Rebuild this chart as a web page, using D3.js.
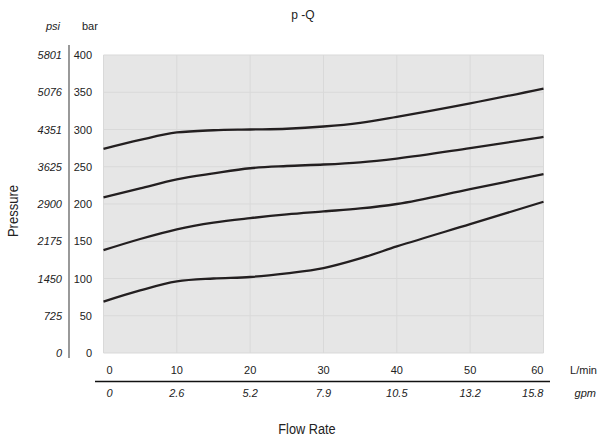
<!DOCTYPE html>
<html>
<head>
<meta charset="utf-8">
<script src="https://cdn.jsdelivr.net/npm/d3@7"></script>
<style>
  body { margin: 0; background: #fff; }
  text { font-family: "Liberation Sans", Arial, sans-serif; fill: #222; }
</style>
</head>
<body>
<svg id="chart" width="598" height="441"></svg>
<script>
// data (bar vs L/min)
const flow = [0, 5, 10, 15, 20, 25, 30, 35, 40, 50, 60];
const curveA = [274, 286, 296, 299, 300, 301, 304, 309, 317, 335, 355];
const curveB = [209, 221, 233, 241, 248, 251, 253, 256, 261, 275, 290];
const curveC = [138, 153, 166, 175, 181, 186, 190, 194, 200, 220, 240];
const curveD = [69, 84, 96, 100, 102, 107, 114, 127, 143, 173, 203];
const barTicks = [0, 50, 100, 150, 200, 250, 300, 350, 400];
const psiLabels = ["0", "725", "1450", "2175", "2900", "3625", "4351", "5076", "5801"];
const lpmTicks = [0, 10, 20, 30, 40, 50, 60];
const gpmLabels = ["0", "2.6", "5.2", "7.9", "10.5", "13.2", "15.8"];

const svg = d3.select("#chart");
const plotLeft = 103.5, plotRight = 543.5, plotTop = 55, plotBottom = 353;

const x = d3.scaleLinear().domain([0, 60]).range([plotLeft, plotRight]);
const y = d3.scaleLinear().domain([0, 400]).range([plotBottom, plotTop]);

// plot background
svg.append("rect")
  .attr("x", plotLeft).attr("y", plotTop)
  .attr("width", plotRight - plotLeft).attr("height", plotBottom - plotTop)
  .attr("fill", "#e6e6e6");

// grid
svg.append("g").selectAll("line").data(barTicks).join("line")
  .attr("x1", plotLeft).attr("x2", plotRight)
  .attr("y1", d => y(d)).attr("y2", d => y(d))
  .attr("stroke", "#d9d9d9").attr("stroke-width", 1);
svg.append("g").selectAll("line").data(lpmTicks).join("line")
  .attr("x1", d => x(d)).attr("x2", d => x(d))
  .attr("y1", plotTop).attr("y2", plotBottom)
  .attr("stroke", "#d9d9d9").attr("stroke-width", 1);

// curves
const line = d3.line()
  .x((d, i) => x(flow[i]))
  .y(d => y(d))
  .curve(d3.curveMonotoneX);
svg.append("g").selectAll("path").data([curveA, curveB, curveC, curveD]).join("path")
  .attr("d", line)
  .attr("fill", "none")
  .attr("stroke", "#231f20")
  .attr("stroke-width", 2.3);

// title
svg.append("text").attr("x", 303).attr("y", 19)
  .attr("text-anchor", "middle").attr("font-size", 12)
  .text("p -Q");

// left axes: psi | bar
svg.append("line")
  .attr("x1", 69).attr("x2", 69).attr("y1", 45).attr("y2", 358)
  .attr("stroke", "#808080").attr("stroke-width", 1.6);
svg.append("text").attr("x", 60).attr("y", 30)
  .attr("text-anchor", "end").attr("font-size", 11).attr("font-style", "italic")
  .text("psi");
svg.append("text").attr("x", 82).attr("y", 30)
  .attr("font-size", 11)
  .text("bar");
svg.append("g").selectAll("text").data(barTicks).join("text")
  .attr("x", 92).attr("y", d => y(d) + 4)
  .attr("text-anchor", "end").attr("font-size", 11)
  .text(d => d);
svg.append("g").selectAll("text").data(barTicks).join("text")
  .attr("x", 62).attr("y", d => y(d) + 4)
  .attr("text-anchor", "end").attr("font-size", 11).attr("font-style", "italic")
  .text((d, i) => psiLabels[i]);
svg.append("text")
  .attr("transform", "translate(18,211) rotate(-90) scale(0.87,1)")
  .attr("text-anchor", "middle").attr("font-size", 15)
  .text("Pressure");

// bottom axes: L/min over gpm
const anchorFor = i => i === 0 ? "start" : i === lpmTicks.length - 1 ? "end" : "middle";
const nudge = i => i === 0 ? 3 : 0;
svg.append("g").selectAll("text").data(lpmTicks).join("text")
  .attr("x", (d, i) => x(d) + nudge(i)).attr("y", 374)
  .attr("text-anchor", (d, i) => anchorFor(i)).attr("font-size", 11)
  .text(d => d);
svg.append("line")
  .attr("x1", 95).attr("x2", 550).attr("y1", 381.5).attr("y2", 381.5)
  .attr("stroke", "#111").attr("stroke-width", 1.4);
svg.append("g").selectAll("text").data(lpmTicks).join("text")
  .attr("x", (d, i) => x(d) + nudge(i)).attr("y", 397)
  .attr("text-anchor", (d, i) => anchorFor(i)).attr("font-size", 11).attr("font-style", "italic")
  .text((d, i) => gpmLabels[i]);
svg.append("text").attr("x", 597).attr("y", 374)
  .attr("text-anchor", "end").attr("font-size", 11).text("L/min");
svg.append("text").attr("x", 596).attr("y", 397)
  .attr("text-anchor", "end").attr("font-size", 11).attr("font-style", "italic").text("gpm");
svg.append("text")
  .attr("transform", "translate(307,434) scale(0.85,1)")
  .attr("text-anchor", "middle").attr("font-size", 15)
  .text("Flow Rate");
</script>
</body>
</html>
